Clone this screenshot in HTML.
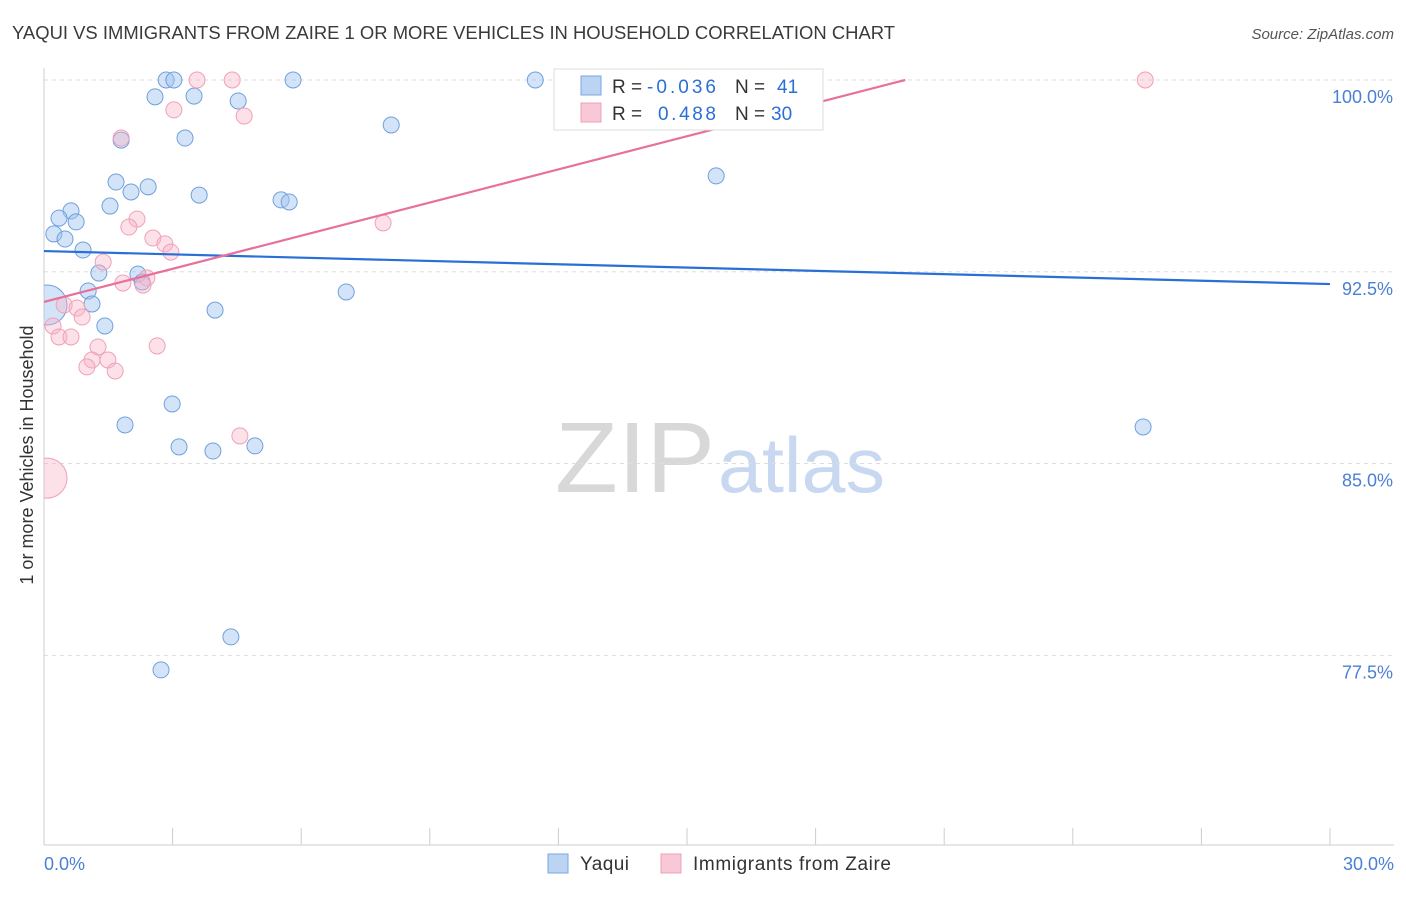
<!DOCTYPE html>
<html><head><meta charset="utf-8"><style>
body{margin:0;background:#fff;font-family:"Liberation Sans",sans-serif;}
svg text{font-family:"Liberation Sans",sans-serif;}
</style></head><body>
<svg id="chart" width="1406" height="892" xmlns="http://www.w3.org/2000/svg">
<text x="12" y="39" font-size="18" fill="#3a3a3a" textLength="883" lengthAdjust="spacingAndGlyphs">YAQUI VS IMMIGRANTS FROM ZAIRE 1 OR MORE VEHICLES IN HOUSEHOLD CORRELATION CHART</text>
<text x="1394" y="39" font-size="15" fill="#555" text-anchor="end" font-style="italic">Source: ZipAtlas.com</text>
<text x="33" y="455" font-size="18" fill="#333" text-anchor="middle" transform="rotate(-90 33 455)">1 or more Vehicles in Household</text>
<text x="555" y="492" font-size="100" fill="#d8d8d8" textLength="160" lengthAdjust="spacingAndGlyphs" font-family="Liberation Serif">ZIP</text>
<text x="718" y="492" font-size="78" fill="#c8d8f0" textLength="167" lengthAdjust="spacingAndGlyphs">atlas</text>
<g id="grid"></g><g id="axes"></g>
<defs><clipPath id="pc"><rect x="44" y="60" width="1360" height="786"/></clipPath></defs>
<g id="marks" clip-path="url(#pc)"></g>
<g>
<rect x="554" y="69" width="269" height="61" fill="#fff" stroke="#ddd"/>
<rect x="581" y="76" width="20" height="19" fill="#bcd4f4" stroke="#7aa6e0"/>
<rect x="581" y="103" width="20" height="19" fill="#f8c8d6" stroke="#f0a0b8"/>
<text x="612" y="93" font-size="19" fill="#333">R =</text>
<text x="647" y="93" font-size="19" fill="#2a6fd6" textLength="69">-0.036</text>
<text x="735" y="93" font-size="19" fill="#333">N =</text>
<text x="777" y="93" font-size="19" fill="#2a6fd6">41</text>
<text x="612" y="120" font-size="19" fill="#333">R =</text>
<text x="658" y="120" font-size="19" fill="#2a6fd6" textLength="58">0.488</text>
<text x="735" y="120" font-size="19" fill="#333">N =</text>
<text x="771" y="120" font-size="19" fill="#2a6fd6">30</text>
</g>
<g>
<rect x="548" y="854" width="20" height="19" fill="#bcd4f4" stroke="#7aa6e0"/>
<text x="580" y="870" font-size="19" fill="#333" textLength="49">Yaqui</text>
<rect x="661" y="854" width="20" height="19" fill="#f8c8d6" stroke="#f0a0b8"/>
<text x="693" y="870" font-size="19" fill="#333" textLength="198">Immigrants from Zaire</text>
</g>
</svg>
<script>
const blueX=[2.85,3.03,5.81,11.46,2.59,3.50,4.53,8.10,3.29,1.80,15.68,1.68,2.43,2.03,3.62,5.53,5.72,1.54,0.63,0.35,0.75,0.23,0.49,0.91,1.28,2.19,2.29,1.03,7.05,1.12,0.07,3.99,1.42,2.99,1.89,25.64,3.15,3.94,4.92,4.36,2.73];
const blueY=[100,100,100,100,99.34,99.37,99.18,98.24,97.73,97.65,96.25,96.01,95.82,95.62,95.50,95.31,95.23,95.07,94.88,94.60,94.45,93.98,93.78,93.35,92.45,92.41,92.10,91.75,91.71,91.24,91.20,91.0,90.38,87.33,86.51,86.43,85.65,85.49,85.69,78.22,76.93];
const blueR=[8,8,8,8,8,8,8,8,8,8,8,8,8,8,8,8,8,8,8,8,8,8,8,8,8,8,8,8,8,8,20,8,8,8,8,8,8,8,8,8,8];
const pinkX=[25.69,3.57,4.39,3.03,4.67,1.80,2.17,1.98,7.91,2.54,2.82,2.96,1.38,2.40,1.84,2.31,0.47,0.77,0.89,0.21,0.35,0.63,1.26,2.64,1.12,1.49,1.00,1.66,4.57,0.07];
const pinkY=[100,100,100,98.83,98.59,97.73,94.56,94.25,94.41,93.82,93.59,93.27,92.88,92.26,92.06,91.98,91.20,91.08,90.73,90.38,89.95,89.95,89.56,89.60,89.05,89.05,88.78,88.62,86.08,84.43];
const pinkR=[8,8,8,8,8,8,8,8,8,8,8,8,8,8,8,8,8,8,8,8,8,8,8,8,8,8,8,8,8,20];
const blueTrend=[93.31,92.02];
const pinkTrend=[91.32,100];
const pinkTrendEndX=20.09;
const yTicks=[100,92.5,85,77.5];
const yTickLabels=["100.0%","92.5%","85.0%","77.5%"];
const xTicks=[0,3,6,9,12,15,18,21,24,27,30];

const NS="http://www.w3.org/2000/svg";
const sx=v=>44+v/30*1286;
const sy=v=>80+(100-v)*25.57;
function mk(tag,attrs,parent){const e=document.createElementNS(NS,tag);for(const k in attrs)e.setAttribute(k,attrs[k]);document.getElementById(parent).appendChild(e);return e;}
yTicks.forEach((t,i)=>{
 const g=mk('line',{x1:44,x2:1394,y1:sy(t),y2:sy(t),stroke:'#ddd','stroke-dasharray':'4,4'},'grid');
 
 
 const tx=mk('text',{x:1393,y:sy(t)+23,'font-size':18,fill:'#4a7fd4','text-anchor':'end'},'axes');
 tx.textContent=yTickLabels[i];
 
 
});
const ax=mk('line',{x1:44,x2:44,y1:68,y2:845,stroke:'#ccc'},'axes');


const bx=mk('line',{x1:44,x2:1394,y1:845,y2:845,stroke:'#ccc'},'axes');


xTicks.forEach(t=>{
 const l=mk('line',{x1:sx(t),x2:sx(t),y1:828,y2:845,stroke:'#ccc'},'axes');
 
 
});
const xl0=mk('text',{x:44,y:870,'font-size':18,fill:'#4a7fd4'},'axes');xl0.textContent='0.0%';


const xl1=mk('text',{x:1394,y:870,'font-size':18,fill:'#4a7fd4','text-anchor':'end'},'axes');xl1.textContent='30.0%';


blueX.forEach((x,i)=>{
 const c=mk('circle',{cx:sx(x),cy:sy(blueY[i]),r:blueR[i],fill:'rgba(160,196,240,0.45)',stroke:'#6fa0dc','stroke-width':1},'marks');
 
 
});
pinkX.forEach((x,i)=>{
 const c=mk('circle',{cx:sx(x),cy:sy(pinkY[i]),r:pinkR[i],fill:'rgba(248,180,200,0.4)',stroke:'#f0a0b8','stroke-width':1},'marks');
 
 
});
const bl=mk('line',{x1:sx(0),y1:sy(blueTrend[0]),x2:sx(30),y2:sy(blueTrend[1]),stroke:'#2a6fd6','stroke-width':2.2},'marks');


const pl=mk('line',{x1:sx(0),y1:sy(pinkTrend[0]),x2:sx(pinkTrendEndX),y2:sy(pinkTrend[1]),stroke:'#e8709a','stroke-width':2.2},'marks');


</script>
</body></html>
